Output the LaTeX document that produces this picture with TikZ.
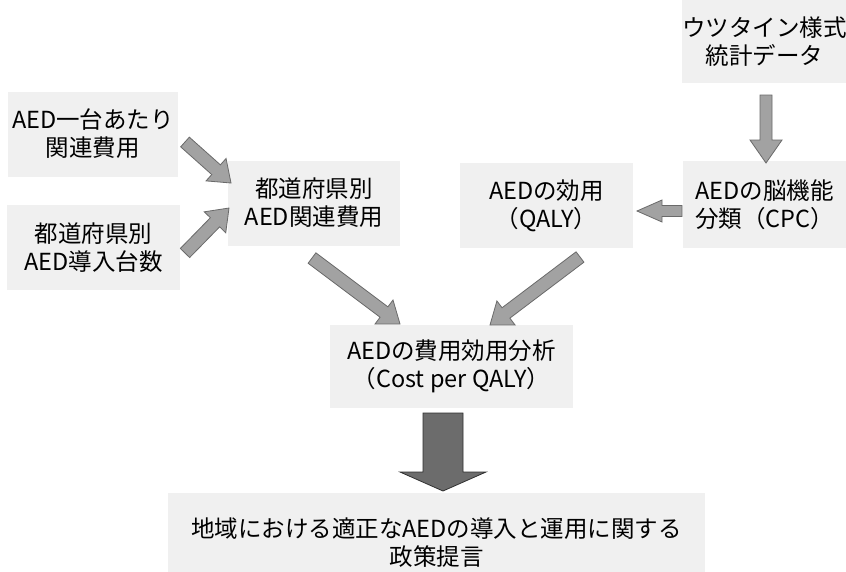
\documentclass[tikz,border=0pt]{standalone}
\usepackage{fontspec}
\setmainfont{Noto Sans CJK JP}
\usetikzlibrary{calc}
\definecolor{boxfill}{HTML}{F0F0F0}
\definecolor{arrfill}{HTML}{A2A2A2}
\definecolor{arrline}{HTML}{6A6A6A}
\definecolor{bigfill}{HTML}{6C6C6C}
\definecolor{bigline}{HTML}{303030}
% #1 style, #2 from, #3 to, #4 half shaft, #5 half head, #6 head length
\newcommand{\blkarrow}[6]{%
  \coordinate (hb) at ($(#3)!#6!(#2)$);
  \draw[#1] ($(#2)!#4!90:(#3)$) -- ($(hb)!#4!90:(#3)$) -- ($(hb)!#5!90:(#3)$)
    -- (#3) -- ($(hb)!#5!-90:(#3)$) -- ($(hb)!#4!-90:(#3)$)
    -- ($(#2)!#4!-90:(#3)$) -- cycle;}
\begin{document}
\begin{tikzpicture}[x=1pt,y=-1pt,
  box/.style={fill=boxfill, inner sep=0pt, align=center,
    font=\fontsize{23.5}{28}\selectfont},
  grayarrow/.style={fill=arrfill, draw=arrline, line width=0.8pt, line join=miter},
  bigarrow/.style={fill=bigfill, draw=bigline, line width=0.8pt, line join=miter}]
\useasboundingbox (0,0) rectangle (846,571);
\fill[white] (0,0) rectangle (846,571);

\node[box, minimum width=170pt, minimum height=85pt] (b1) at (93,134) {AED一台あたり\\関連費用};
\node[box, minimum width=173pt, minimum height=85pt] (b2) at (93.5,247.5) {都道府県別\\AED導入台数};
\node[box, minimum width=172pt, minimum height=85pt] (b3) at (314,203) {都道府県別\\AED関連費用};
\node[box, minimum width=173pt, minimum height=85pt] (bq) at (546.5,205.5) {AEDの効用\\（QALY）};
\node[box, minimum width=163pt, minimum height=87pt] (bc) at (764.5,204.5) {AEDの脳機能\\分類（CPC）};
\node[box, minimum width=163pt, minimum height=83pt] (bu) at (764.5,41.5) {ウツタイン様式\\統計データ};
\node[box, minimum width=243pt, minimum height=83pt] (bcost) at (451.5,366.5) {AEDの費用効用分析\\（Cost per QALY）};
\node[box, minimum width=537pt, minimum height=100pt] (bpol) at (436.5,543) {地域における適正なAEDの導入と運用に関する\\政策提言};

\coordinate (a1s) at (185,142); \coordinate (a1e) at (231,183);
\coordinate (a2s) at (185,253); \coordinate (a2e) at (229,208);
\coordinate (a3s) at (312,258); \coordinate (a3e) at (400,324);
\coordinate (a4s) at (580,257); \coordinate (a4e) at (490,325);
\coordinate (a5s) at (766,95);  \coordinate (a5e) at (766,163);
\coordinate (a6s) at (682,211); \coordinate (a6e) at (637,211);
\coordinate (a7s) at (443,413); \coordinate (a7e) at (443,491);

\blkarrow{grayarrow}{a1s}{a1e}{6.5pt}{15pt}{20pt}
\blkarrow{grayarrow}{a2s}{a2e}{6.5pt}{15pt}{20pt}
\blkarrow{grayarrow}{a3s}{a3e}{6.5pt}{15pt}{20pt}
\blkarrow{grayarrow}{a4s}{a4e}{6.5pt}{15pt}{20pt}
\blkarrow{grayarrow}{a5s}{a5e}{6pt}{16pt}{23pt}
\blkarrow{grayarrow}{a6s}{a6e}{5.5pt}{11pt}{25pt}
\blkarrow{bigarrow}{a7s}{a7e}{20pt}{43pt}{19pt}
\end{tikzpicture}
\end{document}
